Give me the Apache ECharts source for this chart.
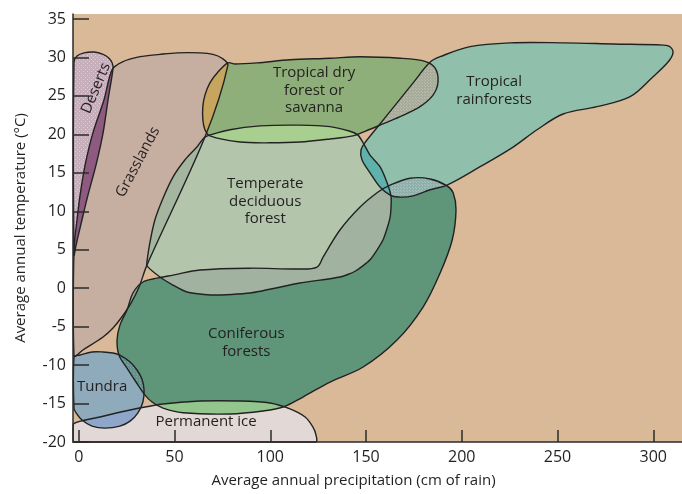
<!DOCTYPE html>
<html>
<head>
<meta charset="utf-8">
<script src="https://cdn.jsdelivr.net/npm/echarts@6/dist/echarts.min.js"></script>
<style>
  html, body { margin: 0; padding: 0; background: #ffffff; }
  #chart { width: 682px; height: 494px; }
</style>
</head>
<body>
<div id="chart"></div>
<script>
// Climate envelopes of the major biomes, as outlines of
// [average annual precipitation (cm), average annual temperature (°C)]
const deserts = [[-2.5,29.4],[-0.9,30.2],[2.8,30.6],[8.0,30.7],[12.7,30.4],[15.8,29.9],[17.4,29.3],[17.9,28.6],
  [15.3,24.5],[12.7,20.2],[9.0,16.0],[4.8,12.1],[1.7,8.9],[-1.4,5.6],[-2.5,4.3]];

const grasslands = [[17.4,28.4],[22.6,29.4],[32.0,30.1],[42.4,30.4],[51.3,30.6],[63.3,30.6],[70.1,30.4],[74.8,29.9],
  [77.9,29.0],[65.9,19.65],[35.6,3.0],[31.5,0.15],[27.3,-1.93],[22.1,-3.88],[17.9,-5.18],[12.7,-6.35],[2.2,-8.04],
  [-2.5,-8.8],[-2.5,5.0],[-0.9,8.9],[0.7,12.1],[3.3,16.0],[7.4,20.2],[13.2,24.5]];

const dryForest = [[77.9,29.3],[72.7,28.1],[68.5,26.7],[65.9,25.1],[64.8,23.6],[64.8,21.9],[65.9,20.6],[68.5,19.8],
  [84.2,19.0],[99.9,18.9],[115.5,19.0],[131.2,19.4],[143.2,19.8],[149.5,20.4],[157.3,21.2],[167.8,22.3],[178.2,23.6],
  [185.0,25.1],[187.6,26.8],[186.1,28.6],[180.8,29.5],[167.8,29.9],[146.9,30.1],[131.2,29.9],[110.3,29.7],[93.1,29.3],
  [81.6,29.15]];

const rainforest = [[183.5,29.4],[188.7,30.1],[204.3,31.4],[225.2,31.9],[252.9,31.9],[279.0,31.75],[305.1,31.6],
  [308.7,31.4],[310.3,30.6],[307.7,29.4],[299.9,27.5],[287.9,24.9],[270.6,23.6],[252.9,22.65],[239.3,20.6],
  [226.8,18.35],[209.6,15.8],[192.3,13.4],[183.5,12.8],[174.6,12.0],[166.7,11.85],[162.6,12.1],[157.3,13.15],
  [152.1,15.0],[147.9,16.7],[147.4,18.0],[150.0,19.1],[157.3,21.35],[166.2,24.1],[174.6,26.7]];

const deciduous = [[65.9,19.65],[79.0,20.6],[94.7,21.1],[115.5,21.2],[131.2,21.0],[141.6,20.4],[145.8,19.9],
  [148.5,18.9],[152.1,17.3],[157.3,15.8],[161.0,13.7],[163.1,11.85],[162.6,9.25],[158.9,6.3],[152.1,3.7],[144.3,2.2],
  [136.4,1.45],[115.5,0.67],[89.4,-0.63],[70.1,-0.89],[56.5,-0.5],[49.2,0.4],[42.4,1.45],[35.6,2.9],[35.6,3.4],
  [37.2,6.0],[39.8,8.9],[44.0,11.7],[49.2,14.45],[55.5,16.7],[61.7,18.35]];

const coniferous = [[33.5,0.8],[40.9,1.3],[49.2,1.7],[63.3,2.36],[89.4,2.6],[115.5,2.49],[124.4,2.75],[127.6,4.05],
  [136.4,7.56],[146.9,10.55],[156.3,12.5],[162.6,13.4],[173.0,14.3],[183.5,14.2],[192.3,13.3],[195.5,12.4],
  [197.0,10.2],[195.0,6.26],[188.7,1.97],[179.8,-2.45],[166.2,-6.74],[148.5,-10.25],[131.2,-12.2],[117.1,-14.15],
  [106.7,-15.45],[96.2,-15.97],[79.0,-16.36],[54.4,-16.2],[44.0,-15.6],[38.3,-14.8],[34.6,-13.9],[29.9,-12.2],
  [25.2,-10.4],[21.0,-8.69],[20.0,-6.74],[21.5,-4.8],[25.2,-2.84],[28.3,-0.63]];

const tundra = [[-2.5,-8.95],[0.7,-8.69],[6.9,-8.3],[12.7,-8.3],[17.9,-8.43],[21.5,-8.69],[26.8,-9.6],[30.4,-10.64],
  [33.0,-11.8],[34.1,-13.24],[33.5,-14.8],[30.9,-16.2],[26.8,-17.28],[21.5,-17.93],[13.7,-18.2],[6.9,-17.93],
  [1.7,-17.14],[-1.4,-16.2],[-2.5,-15.6]];

const permanentIce = [[-2.8,-17.66],[11.1,-16.75],[26.8,-15.84],[44.0,-15.06],[63.3,-14.67],[84.2,-14.67],
  [99.9,-14.93],[110.3,-15.7],[118.2,-16.75],[122.3,-18.06],[123.9,-19.1],[123.9,-20],[-2.8,-20]];

const xTicks = [0, 50, 100, 150, 200, 250, 300];
const yTicks = [-20, -15, -10, -5, 0, 5, 10, 15, 20, 25, 30, 35];

// Stippled fill: a base colour sprinkled with lighter dots
function stipple(base, dot, size) {
  const c = document.createElement('canvas');
  c.width = size; c.height = size;
  const g = c.getContext('2d');
  g.fillStyle = base; g.fillRect(0, 0, size, size);
  g.fillStyle = dot;
  g.fillRect(1, 1, 1, 1);
  g.fillRect(Math.floor(size / 2) + 1, Math.floor(size / 2) + 1, 1, 1);
  return { image: c, repeat: 'repeat' };
}

// Biome fills and how strongly each outline is rounded off
const biomes = {
  deserts:      { outline: deserts,      fill: stipple('#c7aebb', '#dccfd6', 4), smooth: 0.3 },
  grasslands:   { outline: grasslands,   fill: '#c6aea1', smooth: 0.3 },
  dryForest:    { outline: dryForest,    fill: '#8faf7a', smooth: 0.3 },
  rainforest:   { outline: rainforest,   fill: '#90c0ac', smooth: 0.35 },
  deciduous:    { outline: deciduous,    fill: '#b3c6ac', smooth: 0.2 },
  coniferous:   { outline: coniferous,   fill: '#5f9578', smooth: 0.35 },
  tundra:       { outline: tundra,       fill: '#8eaabb', smooth: 0.35 },
  permanentIce: { outline: permanentIce, fill: '#e2d9d7', smooth: 0.25 }
};
const biomeOrder = ['grasslands', 'deserts', 'dryForest', 'rainforest', 'deciduous', 'coniferous', 'tundra', 'permanentIce'];

// Where two envelopes overlap the shared area gets its own tint
const overlaps = [
  ['deserts', 'grasslands', '#8e5a80'],
  ['grasslands', 'dryForest', '#c8a55f'],
  ['grasslands', 'deciduous', '#a4b5a0'],
  ['grasslands', 'coniferous', '#8fa89a'],
  ['dryForest', 'deciduous', '#a8cf8f'],
  ['dryForest', 'rainforest', stipple('#a7ab9a', '#bbbdaf', 3)],
  ['deciduous', 'coniferous', '#a1b3a0'],
  ['rainforest', 'coniferous', stipple('#8fb0aa', '#a9c3be', 3)],
  ['deciduous', 'rainforest', '#5fb1ac'],
  ['tundra', 'coniferous', stipple('#63908a', '#7fa59e', 3)],
  ['tundra', 'permanentIce', '#8ea6c9'],
  ['coniferous', 'permanentIce', '#93c68c']
];

// Biome names, anchored in data space
const labels = [
  { text: 'Deserts', at: [9.0, 26.0], angle: 67 },
  { text: 'Grasslands', at: [30.9, 16.4], angle: 62 },
  { text: 'Tropical dry\nforest or\nsavanna', at: [122.9, 25.7], angle: 0 },
  { text: 'Tropical\nrainforests', at: [216.9, 25.7], angle: 0 },
  { text: 'Temperate\ndeciduous\nforest', at: [97.4, 11.3], angle: 0 },
  { text: 'Coniferous\nforests', at: [87.5, -7.1], angle: 0 },
  { text: 'Tundra', at: [12.2, -12.85], angle: 0 },
  { text: 'Permanent ice', at: [66.5, -17.3], angle: 0 }
];

const X_RANGE = [-3, 315];
const Y_RANGE = [-20, 35.65];
const INK = '#231f20';
const FONT = 'Open Sans';

// Outline of a biome in pixels, rounded off but kept inside the plot area
function biomeShape(api, key) {
  const b = biomes[key];
  const a = api.coord([X_RANGE[0], Y_RANGE[1]]);
  const c = api.coord([X_RANGE[1], Y_RANGE[0]]);
  return {
    points: b.outline.map(p => api.coord(p)),
    smooth: b.smooth,
    smoothConstraint: [[a[0], a[1]], [c[0], c[1]]]
  };
}

const chart = echarts.init(document.getElementById('chart'), null, { renderer: 'canvas' });

chart.setOption({
  animation: false,
  grid: { left: 73, right: 0, top: 14, bottom: 52, show: true, backgroundColor: '#d9b998', borderWidth: 0 },
  xAxis: {
    type: 'value', min: X_RANGE[0], max: X_RANGE[1], z: 10,
    name: 'Average annual precipitation (cm of rain)',
    nameLocation: 'middle', nameGap: 31,
    nameTextStyle: { fontSize: 15, color: INK, fontFamily: FONT, padding: [0, 48, 0, 0] },
    axisLine: { show: true, onZero: false, lineStyle: { color: '#2b2b2b', width: 1.5 } },
    axisTick: { show: true, inside: true, length: 12, customValues: xTicks, lineStyle: { color: '#2b2b2b', width: 1.5 } },
    axisLabel: { customValues: xTicks, fontSize: 16, color: INK, fontFamily: FONT, margin: 7 },
    splitLine: { show: false }
  },
  yAxis: {
    type: 'value', min: Y_RANGE[0], max: Y_RANGE[1], z: 10,
    name: 'Average annual temperature (°C)',
    nameLocation: 'middle', nameGap: 45,
    nameTextStyle: { fontSize: 15, color: INK, fontFamily: FONT },
    axisLine: { show: true, onZero: false, lineStyle: { color: '#2b2b2b', width: 1.5 } },
    axisTick: { show: true, inside: true, length: 16, customValues: yTicks, lineStyle: { color: '#2b2b2b', width: 1.5 } },
    axisLabel: { customValues: yTicks, fontSize: 16, color: INK, fontFamily: FONT, margin: 7 },
    splitLine: { show: false }
  },
  series: [
    {
      type: 'custom', name: 'biome fills', silent: true,
      data: biomeOrder.map(k => biomes[k].outline[0]),
      renderItem: (params, api) => {
        const key = biomeOrder[params.dataIndex];
        return { type: 'polygon', shape: biomeShape(api, key), style: { fill: biomes[key].fill } };
      }
    },
    {
      type: 'custom', name: 'overlaps', silent: true,
      data: overlaps.map(o => biomes[o[0]].outline[0]),
      renderItem: (params, api) => {
        const [a, b, color] = overlaps[params.dataIndex];
        return {
          type: 'polygon',
          shape: biomeShape(api, b),
          style: { fill: color },
          clipPath: { type: 'polygon', shape: biomeShape(api, a) }
        };
      }
    },
    {
      type: 'custom', name: 'outlines', silent: true,
      data: biomeOrder.map(k => biomes[k].outline[0]),
      renderItem: (params, api) => {
        const key = biomeOrder[params.dataIndex];
        return {
          type: 'polygon', shape: biomeShape(api, key),
          style: { fill: 'none', stroke: '#222222', lineWidth: 1.4, lineJoin: 'round' }
        };
      }
    },
    {
      type: 'custom', name: 'names', silent: true,
      data: labels.map(l => l.at),
      renderItem: (params, api) => {
        const l = labels[params.dataIndex];
        const p = api.coord(l.at);
        return {
          type: 'text', x: p[0], y: p[1], rotation: l.angle * Math.PI / 180,
          style: {
            text: l.text, fill: INK, fontSize: 15, fontFamily: FONT,
            align: 'center', verticalAlign: 'middle', lineHeight: 17.5
          }
        };
      }
    }
  ]
});
</script>
</body>
</html>
